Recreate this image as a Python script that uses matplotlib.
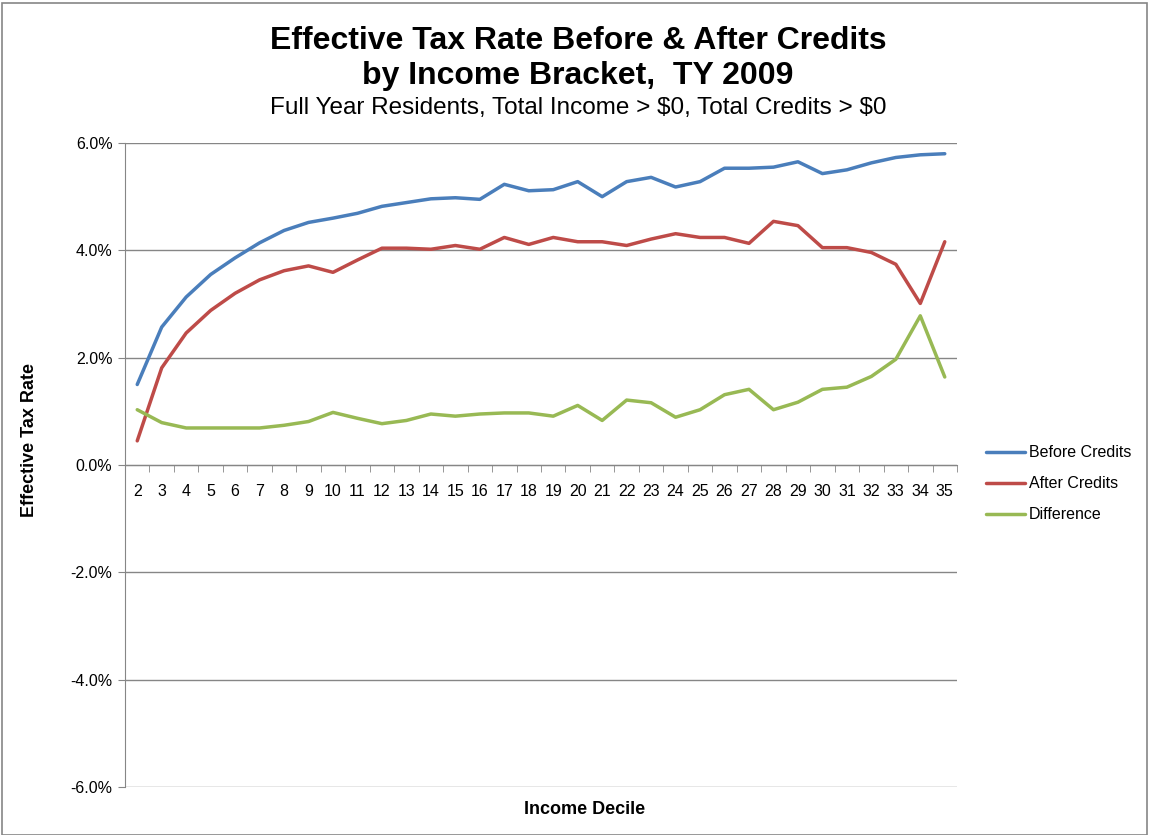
import matplotlib
matplotlib.use("Agg")
import matplotlib.pyplot as plt
from matplotlib.patches import Rectangle
from matplotlib.ticker import FixedLocator, FuncFormatter

plt.rcParams['font.family'] = ['Liberation Sans', 'DejaVu Sans']

deciles = list(range(2, 36))
before_credits = [1.50, 2.57, 3.13, 3.55, 3.86, 4.14, 4.37, 4.52, 4.60, 4.69, 4.82, 4.89,
                  4.96, 4.98, 4.95, 5.23, 5.11, 5.13, 5.28, 5.00, 5.28, 5.36, 5.18, 5.28,
                  5.53, 5.53, 5.55, 5.65, 5.43, 5.50, 5.63, 5.73, 5.78, 5.80]
after_credits = [0.45, 1.81, 2.46, 2.88, 3.20, 3.45, 3.62, 3.71, 3.59, 3.82, 4.04, 4.04,
                 4.02, 4.09, 4.02, 4.24, 4.11, 4.24, 4.16, 4.16, 4.09, 4.21, 4.31, 4.24,
                 4.24, 4.13, 4.54, 4.46, 4.05, 4.05, 3.96, 3.74, 3.01, 4.16]
difference = [1.03, 0.79, 0.69, 0.69, 0.69, 0.69, 0.74, 0.81, 0.98, 0.87, 0.77, 0.83,
              0.95, 0.91, 0.95, 0.97, 0.97, 0.91, 1.11, 0.83, 1.21, 1.16, 0.89, 1.03,
              1.31, 1.41, 1.03, 1.17, 1.41, 1.45, 1.65, 1.97, 2.78, 1.64]
y_ticks = [-6, -4, -2, 0, 2, 4, 6]

W, H = 1149, 835
fig = plt.figure(figsize=(W / 100, H / 100), dpi=100)
ax = fig.add_axes([125 / W, 1 - 787 / H, (957 - 125) / W, (787 - 143) / H])

ax.plot(deciles, before_credits, color='#4A7EBB', lw=2.5, label='Before Credits', solid_capstyle='round')
ax.plot(deciles, after_credits, color='#BE4B48', lw=2.5, label='After Credits', solid_capstyle='round')
ax.plot(deciles, difference, color='#98B954', lw=2.5, label='Difference', solid_capstyle='round')

ax.set_xlim(1.5, 35.5)
ax.set_ylim(-6, 6)
ax.yaxis.set_major_locator(FixedLocator(y_ticks))
ax.yaxis.set_major_formatter(FuncFormatter(lambda v, p: f"{v:.1f}%"))
ax.grid(axis='y', color='#868686', lw=1)
ax.set_axisbelow(True)

for s in ['top', 'right']:
    ax.spines[s].set_visible(False)
ax.spines['left'].set_color('#868686')
ax.spines['bottom'].set_color('#868686')
ax.spines['bottom'].set_position(('data', 0))

ax.set_xticks(deciles)
ax.set_xticklabels([str(d) for d in deciles], fontsize=11.5)
ax.tick_params(axis='x', length=0, pad=14)
ax.set_xticks([d + 0.5 for d in deciles[:-1]] + [1.5, 35.5], minor=True)
ax.tick_params(axis='x', which='minor', length=5, color='#868686', direction='out')
ax.tick_params(axis='y', length=5, color='#868686', labelsize=11.5, pad=4)

fig.text(30 / W, 1 - 440 / H, 'Effective Tax Rate', rotation=90, fontsize=13, fontweight='bold',
         ha='center', va='center')
fig.text(585 / W, 1 - 810 / H, 'Income Decile', fontsize=13, fontweight='bold', ha='center', va='center')

fig.text(578 / W, 1 - 41 / H, 'Effective Tax Rate Before & After Credits', fontsize=23,
         fontweight='bold', ha='center', va='center')
fig.text(578 / W, 1 - 76 / H, 'by Income Bracket,  TY 2009', fontsize=23,
         fontweight='bold', ha='center', va='center')
fig.text(578 / W, 1 - 108 / H, 'Full Year Residents, Total Income > \\$0, Total Credits > \\$0',
         fontsize=17.5, ha='center', va='center')

fig.legend(loc='upper left', bbox_to_anchor=(980 / W, 1 - 439 / H), frameon=False, fontsize=11.5,
           handlelength=2.4, handletextpad=0.25, labelspacing=1.0, borderaxespad=0)

fig.patches.append(Rectangle((2 / W, 0), (W - 4) / W, 1 - 3 / H, transform=fig.transFigure,
                             fill=False, edgecolor='#868686', lw=1.2))

fig.savefig('out.png', dpi=100)
